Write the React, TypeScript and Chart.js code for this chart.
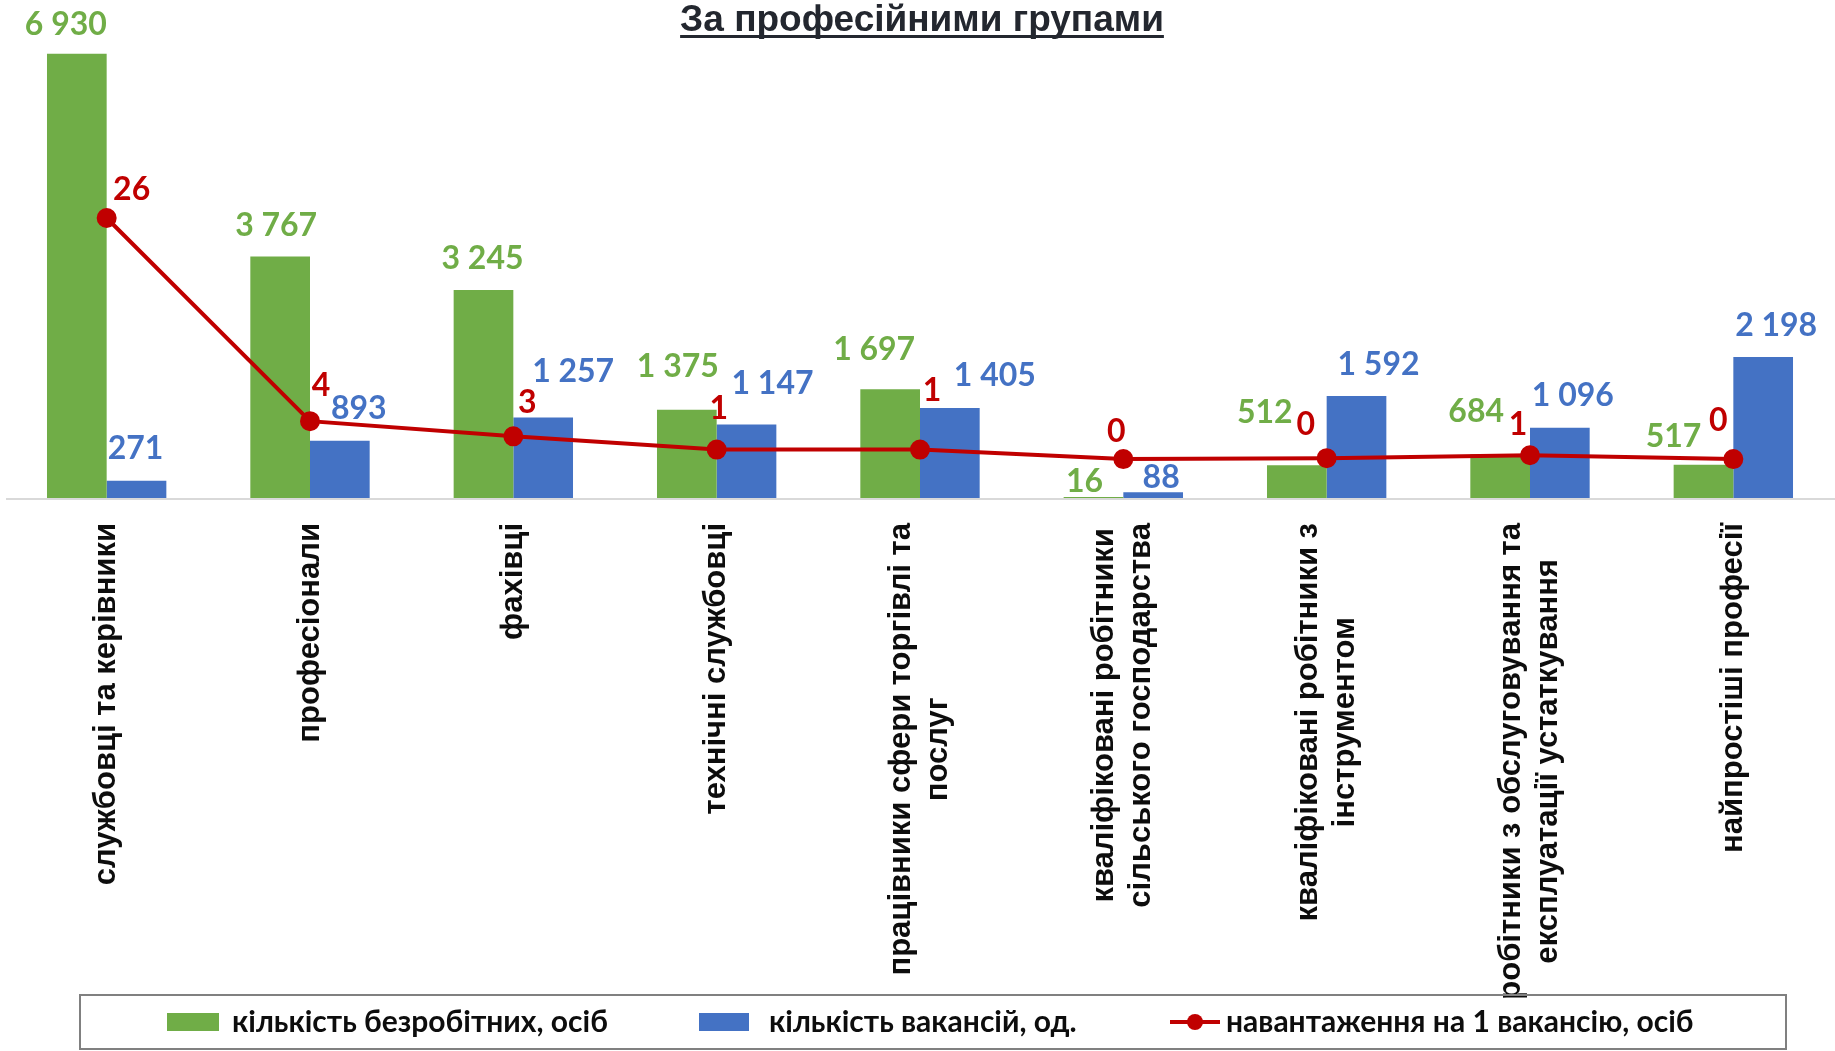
import React, { useEffect, useRef } from "react";
import { Chart, registerables } from "chart.js";

Chart.register(...registerables);

const chartTitle = "За професійними групами";

const categories = [
  "службовці та керівники",
  "професіонали",
  "фахівці",
  "технічні службовці",
  "працівники сфери торгівлі та послуг",
  "кваліфіковані робітники сільського господарства",
  "кваліфіковані робітники з інструментом",
  "робітники з обслуговування та експлуатації устаткування",
  "найпростіші професії",
];

const categoryLabelLines = [
  ["службовці та керівники"],
  ["професіонали"],
  ["фахівці"],
  ["технічні службовці"],
  ["працівники сфери торгівлі та", "послуг"],
  ["кваліфіковані робітники", "сільського господарства"],
  ["кваліфіковані робітники з", "інструментом"],
  ["робітники з обслуговування та", "експлуатації устаткування"],
  ["найпростіші професії"],
];

const seriesNames = [
  "кількість безробітних, осіб",
  "кількість вакансій, од.",
  "навантаження на 1 вакансію, осіб",
];

const unemployed = [6930, 3767, 3245, 1375, 1697, 16, 512, 684, 517];
const vacancies = [271, 893, 1257, 1147, 1405, 88, 1592, 1096, 2198];
const loadPerVacancy = [25.6, 4.2, 2.6, 1.2, 1.2, 0.2, 0.3, 0.6, 0.2];

const GREEN = "#70AD47";
const BLUE = "#4472C4";
const RED = "#C00000";
const TEXT_DARK = "#0D0D0D";

// data-label placement (offset from bar top / point, px)
const greenLabelDx = [-11, -4, -1, -9, -16, -9, -32, -24, -30];
const greenLabelLift = [30, 32, 33, 44, 41, 16, 54, 44, 29];
const blueLabelDx = [-1, 19, 30, 26, 45, 8, 22, 13, 13];
const blueLabelLift = [33, 33, 47, 42, 33, 16, 32, 33, 33];
const redLabelDx = [25, 11, 14, 2, 12, -7, -21, -12, -15];
const redLabelLift = [30, 37, 35, 42, 60, 29, 35, 32, 40];

function formatThousands(n: number): string {
  return String(Math.round(n)).replace(/\B(?=(\d{3})+(?!\d))/g, " ");
}

const decorPlugin = {
  id: "decor",
  beforeDatasetsDraw(chart: any) {
    const { ctx, chartArea } = chart;
    ctx.save();
    ctx.strokeStyle = "#D9D9D9";
    ctx.lineWidth = 2;
    ctx.beginPath();
    ctx.moveTo(6, chartArea.bottom + 1);
    ctx.lineTo(chart.width, chartArea.bottom + 1);
    ctx.stroke();
    ctx.restore();
  },
  afterDatasetsDraw(chart: any) {
    const { ctx } = chart;
    const specs = [
      { ds: 0, color: GREEN, texts: unemployed.map(formatThousands), dx: greenLabelDx, lift: greenLabelLift },
      { ds: 1, color: BLUE, texts: vacancies.map(formatThousands), dx: blueLabelDx, lift: blueLabelLift },
      { ds: 2, color: RED, texts: loadPerVacancy.map((v) => String(Math.round(v))), dx: redLabelDx, lift: redLabelLift },
    ];
    ctx.save();
    const fs = 32;
    ctx.font = `bold ${fs}px Lato`;
    ctx.textAlign = "center";
    ctx.textBaseline = "alphabetic";
    for (const s of specs) {
      const meta = chart.getDatasetMeta(s.ds);
      meta.data.forEach((el: any, i: number) => {
        ctx.fillStyle = s.color;
        const cy = el.y - s.lift[i];
        ctx.fillText(s.texts[i], el.x + s.dx[i], cy + fs * 0.36);
      });
    }
    ctx.restore();
  },
  afterDraw(chart: any) {
    const { ctx, chartArea } = chart;
    const xScale = chart.scales.x;
    ctx.save();

    // Title
    ctx.font = 'bold 37px "Liberation Sans", Arial, sans-serif';
    ctx.fillStyle = "#23272F";
    ctx.textAlign = "center";
    ctx.textBaseline = "alphabetic";
    const tx = 922;
    const ty = 31;
    ctx.fillText(chartTitle, tx, ty);
    const tw = ctx.measureText(chartTitle).width;
    ctx.fillRect(tx - tw / 2, ty + 4, tw, 3);

    // Category labels (rotated)
    ctx.font = 'bold 31px "Liberation Sans", Arial, sans-serif';
    ctx.fillStyle = TEXT_DARK;
    const labelTop = chartArea.bottom + 25;
    const lineH = 37;
    categoryLabelLines.forEach((lines, i) => {
      const x = xScale.getPixelForValue(i);
      const maxW = Math.max(...lines.map((l) => ctx.measureText(l).width));
      ctx.save();
      ctx.translate(x, labelTop);
      ctx.rotate(-Math.PI / 2);
      ctx.textAlign = "center";
      ctx.textBaseline = "middle";
      lines.forEach((l, j) => {
        const off = (j - (lines.length - 1) / 2) * lineH;
        ctx.fillText(l, -maxW / 2, off);
      });
      ctx.restore();
    });

    // Legend
    const bx = 80, by = 995, bw = 1706, bh = 54;
    ctx.strokeStyle = "#808080";
    ctx.lineWidth = 2;
    ctx.strokeRect(bx, by, bw, bh);
    const cy = by + bh / 2;
    ctx.font = "bold 30px Lato";
    ctx.textAlign = "left";
    ctx.textBaseline = "middle";
    ctx.fillStyle = GREEN;
    ctx.fillRect(167, cy - 9, 52, 18);
    ctx.fillStyle = TEXT_DARK;
    ctx.fillText(seriesNames[0], 232, cy);
    ctx.fillStyle = BLUE;
    ctx.fillRect(699, cy - 9, 50, 18);
    ctx.fillStyle = TEXT_DARK;
    ctx.fillText(seriesNames[1], 769, cy);
    ctx.strokeStyle = RED;
    ctx.lineWidth = 4;
    ctx.beginPath();
    ctx.moveTo(1170, cy);
    ctx.lineTo(1220, cy);
    ctx.stroke();
    ctx.fillStyle = RED;
    ctx.beginPath();
    ctx.arc(1195, cy, 8, 0, Math.PI * 2);
    ctx.fill();
    ctx.fillStyle = TEXT_DARK;
    ctx.fillText(seriesNames[2], 1226, cy);

    ctx.restore();
  },
};

export default function App() {
  const canvasRef = useRef<HTMLCanvasElement | null>(null);

  useEffect(() => {
    document.body.style.margin = "0";
    const canvas = canvasRef.current;
    if (!canvas) return;
    const chart = new Chart(canvas, {
      type: "bar",
      data: {
        labels: categories,
        datasets: [
          {
            type: "bar",
            label: seriesNames[0],
            data: unemployed,
            backgroundColor: GREEN,
            yAxisID: "y",
            order: 2,
            barPercentage: 1,
            categoryPercentage: 0.587,
          },
          {
            type: "bar",
            label: seriesNames[1],
            data: vacancies,
            backgroundColor: BLUE,
            yAxisID: "y",
            order: 2,
            barPercentage: 1,
            categoryPercentage: 0.587,
          },
          {
            type: "line",
            label: seriesNames[2],
            data: loadPerVacancy,
            borderColor: RED,
            backgroundColor: RED,
            borderWidth: 4,
            pointRadius: 8,
            pointBackgroundColor: RED,
            pointBorderColor: RED,
            tension: 0,
            yAxisID: "y1",
            order: 0,
          },
        ],
      },
      options: {
        animation: false,
        responsive: true,
        maintainAspectRatio: false,
        layout: { autoPadding: false, padding: { left: 5, right: 0, top: 40, bottom: 553 } },
        plugins: {
          legend: { display: false },
          title: { display: false },
          tooltip: { enabled: false },
        },
        scales: {
          x: {
            display: false,
          },
          y: {
            display: false,
            min: 0,
            max: 7145,
          },
          y1: {
            display: false,
            min: -3.9,
            max: 44.36,
          },
        },
      },
      plugins: [decorPlugin],
    });
    return () => chart.destroy();
  }, []);

  return (
    <div style={{ position: "relative", width: "1835px", height: "1051px" }}>
      <canvas ref={canvasRef} />
    </div>
  );
}
